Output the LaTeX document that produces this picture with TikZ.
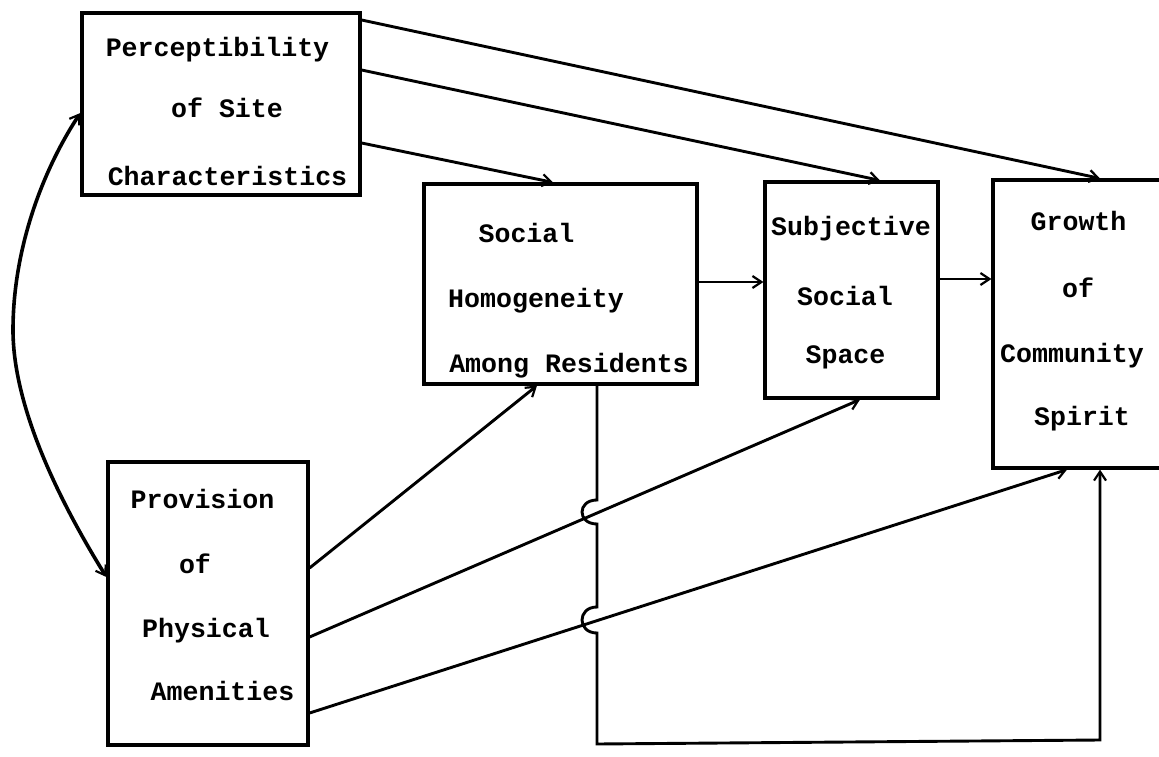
\documentclass[tikz,border=0pt]{standalone}
\usepackage{fontspec}
\usetikzlibrary{arrows.meta}
\newfontfamily\tyfont{Liberation Mono}
\begin{document}
\begin{tikzpicture}[x=1pt,y=-1pt,
  box/.style={draw, rectangle, line width=3.2pt, inner sep=0pt},
  lbl/.style={anchor=base, inner sep=0pt, font=\tyfont\bfseries\fontsize{26.6}{30}\selectfont},
  barb/.tip={Straight Barb[length=9pt,width=12pt,line width=2.2pt]},
  conn/.style={line width=2.9pt, -barb},
  link/.style={line width=3.6pt, barb-barb}]
\clip (0,0) rectangle (1159,757);

% boxes
\node[box, minimum width=278pt, minimum height=182pt] (P) at (221,104) {};
\node[box, minimum width=273pt, minimum height=200pt] (H) at (560.5,284) {};
\node[box, minimum width=173pt, minimum height=216pt] (S) at (851.5,290) {};
\node[box, minimum width=177pt, minimum height=288pt] (G) at (1081.5,324) {};
\node[box, minimum width=200pt, minimum height=283pt] (V) at (208,603.5) {};

% box texts
\node[lbl] (P1) at (217.5,57) {Perceptibility};
\node[lbl] (P2) at (227,118) {of Site};
\node[lbl] (P3) at (227.5,185) {Characteristics};

\node[lbl] (H1) at (526.5,242) {Social};
\node[lbl] (H2) at (536,307) {Homogeneity};
\node[lbl] (H3) at (569,372) {Among Residents};

\node[lbl] (S1) at (851,235) {Subjective};
\node[lbl] (S2) at (845,305) {Social};
\node[lbl] (S3) at (845.5,363) {Space};

\node[lbl] (G1) at (1078.5,230) {Growth};
\node[lbl] (G2) at (1078,297) {of};
\node[lbl] (G3) at (1072,362) {Community};
\node[lbl] (G4) at (1082,425) {Spirit};

\node[lbl] (V1) at (202.5,508) {Provision};
\node[lbl] (V2) at (195,573) {of};
\node[lbl] (V3) at (206,637) {Physical};
\node[lbl] (V4) at (222.5,700) {Amenities};

% arrows out of the perceptibility box
\draw[conn] (P.east |- 0,143) -- (553,0 |- H.north);
\draw[conn] (P.east |- 0,70) -- (880,0 |- S.north);
\draw[conn] (P.east |- 0,20) -- (1100,0 |- G.north);

% chain along the middle row
\draw[conn] (H.east |- 0,282) -- (S.west |- 0,282);
\draw[conn] (S.east |- 0,279) -- (G.west |- 0,279);

% arrows out of the amenities box
\draw[conn] (V.east |- 0,568) -- (537,0 |- H.south);
\draw[conn] (V.east |- 0,637) -- (860,0 |- S.south);
\draw[conn] (V.east |- 0,713) -- (1067,0 |- G.south);

% two-way link between the two exogenous boxes
\draw[link] (P.west |- 0,113) .. controls (42,171) and (13,250) .. (13,330)
  .. controls (13,410) and (63,507) .. (V.west |- 0,577);

% direct path from homogeneity to community spirit, hopping over two lines
\draw[conn] (597,0 |- H.south) -- (597,500)
  .. controls (577,500) and (577,524) .. (597,524) -- (597,607)
  .. controls (577,607) and (577,633) .. (597,633) -- (597,744)
  -- (1100,740) -- (1100,0 |- G.south);
\end{tikzpicture}
\end{document}
